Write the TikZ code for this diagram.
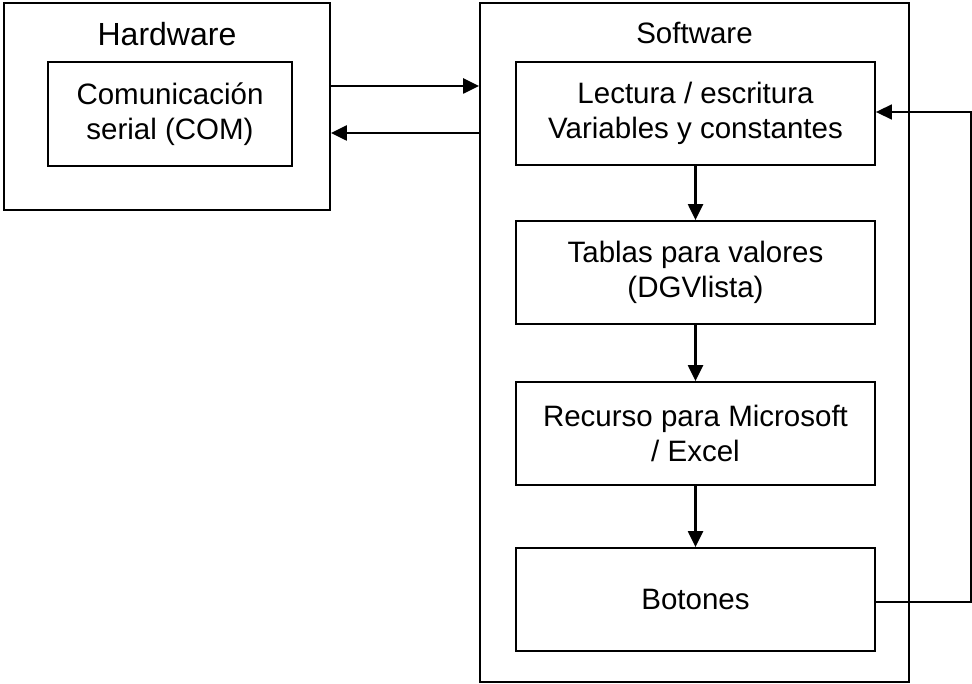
\documentclass[tikz,border=0pt]{standalone}
\usepackage{fontspec}
\setmainfont{Liberation Sans}
\usetikzlibrary{arrows.meta}
\begin{document}
\begin{tikzpicture}[x=1pt,y=-1pt,
  box/.style={draw, line width=1.8pt, rectangle, inner sep=0pt, align=center,
    font=\fontsize{29.5}{35}\selectfont},
  ttl/.style={inner sep=0pt, font=\fontsize{29.5}{35}\selectfont},
  arr/.style={line width=2.3pt, -{Triangle[length=16pt,width=15pt]}},
  fb/.style={line width=1.6pt, -{Triangle[length=16pt,width=15pt]}}]
\useasboundingbox (0,0) rectangle (972,684);
% Hardware
\node[box, minimum width=326pt, minimum height=207pt] (hw) at (167,106.5) {};
\node[ttl, font=\fontsize{32}{38}\selectfont] (hwt) at (167,34) {Hardware};
\node[box, minimum width=244pt, minimum height=104pt] (com) at (170,114) {Comunicación\\serial (COM)};
% Software
\node[box, minimum width=429pt, minimum height=679pt] (sw) at (694.5,342.5) {};
\node[ttl] (swt) at (694.5,33) {Software};
\node[box, minimum width=359pt, minimum height=103pt] (lec) at (695.5,113.5) {Lectura / escritura\\Variables y constantes};
\node[box, minimum width=359pt, minimum height=103pt] (tab) at (695.5,272.5) {Tablas para valores\\(DGVlista)};
\node[box, minimum width=359pt, minimum height=103pt] (rec) at (695.5,433.5) {Recurso para Microsoft\\/ Excel};
\node[box, minimum width=359pt, minimum height=103pt] (bot) at (695.5,599.5) {Botones};
% connectors
\draw[arr] (hw.east |- 0,86) -- (sw.west |- 0,86);
\draw[arr] (sw.west |- 0,133) -- (hw.east |- 0,133);
\draw[arr] (lec.south) -- (tab.north);
\draw[arr] (tab.south) -- (rec.north);
\draw[arr] (rec.south) -- (bot.north);
\coordinate (c1) at (971,602);
\coordinate (c2) at (971,112);
\draw[fb] (bot.east |- c1) -- (c1) -- (c2) -- (lec.east |- c2);
\end{tikzpicture}
\end{document}
